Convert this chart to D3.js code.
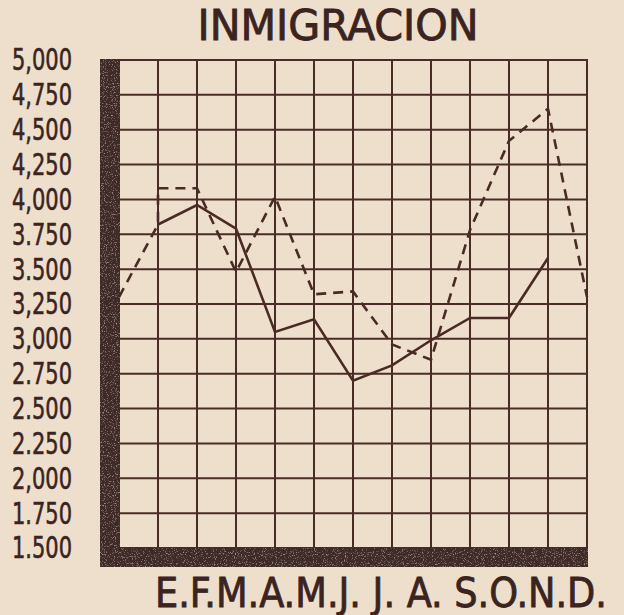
<!DOCTYPE html>
<meta charset="utf-8">
<style>
body { margin: 0; background: #eedfcc; }
svg { display: block; }
.grid line { stroke: #4a2c26; stroke-width: 2; }
.ylab text { font-family: "DejaVu Sans Condensed", "DejaVu Sans", sans-serif; fill: #3b241f; stroke: #3b241f; stroke-width: 0.6; }
.serie { fill: none; stroke: #4a2a24; stroke-width: 2.6; stroke-linejoin: miter; }
</style>
<svg width="624" height="615"></svg>
<script src="https://d3js.org/d3.v7.min.js"></script>
<script>

// month labels (E = enero ... D = diciembre)
var monthLabels = ["E.", "F.", "M.", "A.", "M.", "J. ", "J. ", "A. ", "S.", "O.", "N.", "D."];

var yTicks = [5000, 4750, 4500, 4250, 4000, 3750, 3500, 3250, 3000, 2750, 2500, 2250, 2000, 1750, 1500];
var yTickLabels = ["5,000", "4,750", "4,500", "4,250", "4,000", "3.750", "3.500", "3,250",
                   "3,000", "2.750", "2.500", "2.250", "2,000", "1.750", "1.500"];

// solid line: months 1..11
var solidIdx  = [1, 2, 3, 4, 5, 6, 7, 8, 9, 10, 11];
var solidVals = [3820, 3960, 3790, 3050, 3140, 2700, 2810, 2990, 3150, 3150, 3580];

// dashed line: from previous december (0) to december (12)
var dashedIdx  = [0, 1, 1, 2, 3, 4, 5, 6, 7, 8, 9, 10, 11, 12];
var dashedVals = [3300, 3820, 4080, 4080, 3480, 4020, 3320, 3340, 2960, 2850, 3780, 4420, 4650, 3300];

var svg = d3.select("svg"),
    width = +svg.attr("width"),
    height = +svg.attr("height");

// speckled ink for the heavy bars
var filt = svg.append("defs").append("filter").attr("id", "speckle");
filt.append("feTurbulence")
    .attr("type", "fractalNoise").attr("baseFrequency", 0.9).attr("numOctaves", 2).attr("result", "noise");
filt.append("feColorMatrix")
    .attr("in", "noise").attr("type", "matrix")
    .attr("values", "0 0 0 0 0.55  0 0 0 0 0.45  0 0 0 0 0.42  0 0 0 2.2 -1.25")
    .attr("result", "spots");
filt.append("feComposite").attr("in", "spots").attr("in2", "SourceGraphic").attr("operator", "atop");

svg.append("rect").attr("width", width).attr("height", height).attr("fill", "#eedfcc");

var x = d3.scaleLinear().domain([0, 12]).range([119, 587]);
var y = d3.scaleLinear().domain([1500, 5000]).range([548, 60]);

// title
svg.append("text")
    .attr("x", 338)
    .attr("y", 40)
    .attr("text-anchor", "middle")
    .attr("font-family", "DejaVu Sans Condensed, DejaVu Sans, sans-serif")
    .attr("font-size", 42)
    .attr("fill", "#3b241f")
    .attr("stroke", "#3b241f")
    .attr("stroke-width", 0.8)
    .attr("textLength", 281)
    .attr("lengthAdjust", "spacingAndGlyphs")
    .text("INMIGRACION");

// grid
var grid = svg.append("g").attr("class", "grid");

grid.selectAll(".h")
  .data(yTicks)
  .enter().append("line")
    .attr("class", "h")
    .attr("x1", x(0)).attr("x2", x(12))
    .attr("y1", function(d) { return y(d); })
    .attr("y2", function(d) { return y(d); });

grid.selectAll(".v")
  .data(d3.range(1, 13))
  .enter().append("line")
    .attr("class", "v")
    .attr("x1", function(d) { return x(d); })
    .attr("x2", function(d) { return x(d); })
    .attr("y1", y(5000) - 1).attr("y2", y(1500));

// the two series
var line = d3.line()
    .x(function(d) { return x(d[0]); })
    .y(function(d) { return y(d[1]); });

svg.append("path")
    .datum(dashedIdx.map(function(m, i) { return [m, dashedVals[i]]; }))
    .attr("class", "serie")
    .attr("stroke-dasharray", "10,7")
    .attr("d", line);

svg.append("path")
    .datum(solidIdx.map(function(m, i) { return [m, solidVals[i]]; }))
    .attr("class", "serie")
    .attr("d", line);

// heavy left and bottom bars
var bars = svg.append("g").attr("filter", "url(#speckle)");

bars.append("rect")
    .attr("x", 100).attr("y", y(5000) - 1)
    .attr("width", 20).attr("height", y(1500) + 19 - y(5000) + 1)
    .attr("fill", "#3f2b26");

bars.append("rect")
    .attr("x", 100).attr("y", y(1500))
    .attr("width", x(12) + 1 - 100).attr("height", 19)
    .attr("fill", "#3f2b26");

// y labels
var yAxis = svg.append("g")
    .attr("class", "ylab")
    .attr("transform", "translate(100,0)")
    .call(d3.axisLeft(y)
        .tickValues(yTicks)
        .tickSize(0)
        .tickPadding(28)
        .tickFormat(function(d, i) { return yTickLabels[i]; }));

yAxis.select(".domain").remove();
yAxis.selectAll("text")
    .attr("font-size", 31)
    .attr("font-family", null)
    .attr("fill", null)
    .attr("textLength", 60)
    .attr("lengthAdjust", "spacingAndGlyphs");

// month labels along the bottom
svg.append("text")
    .attr("x", 155)
    .attr("y", 607)
    .attr("font-family", "DejaVu Sans Condensed, DejaVu Sans, sans-serif")
    .attr("font-size", 40)
    .attr("fill", "#3b241f")
    .attr("stroke", "#3b241f")
    .attr("stroke-width", 0.8)
    .attr("textLength", 452)
    .attr("lengthAdjust", "spacingAndGlyphs")
    .text(monthLabels.join("").trim());

</script>
